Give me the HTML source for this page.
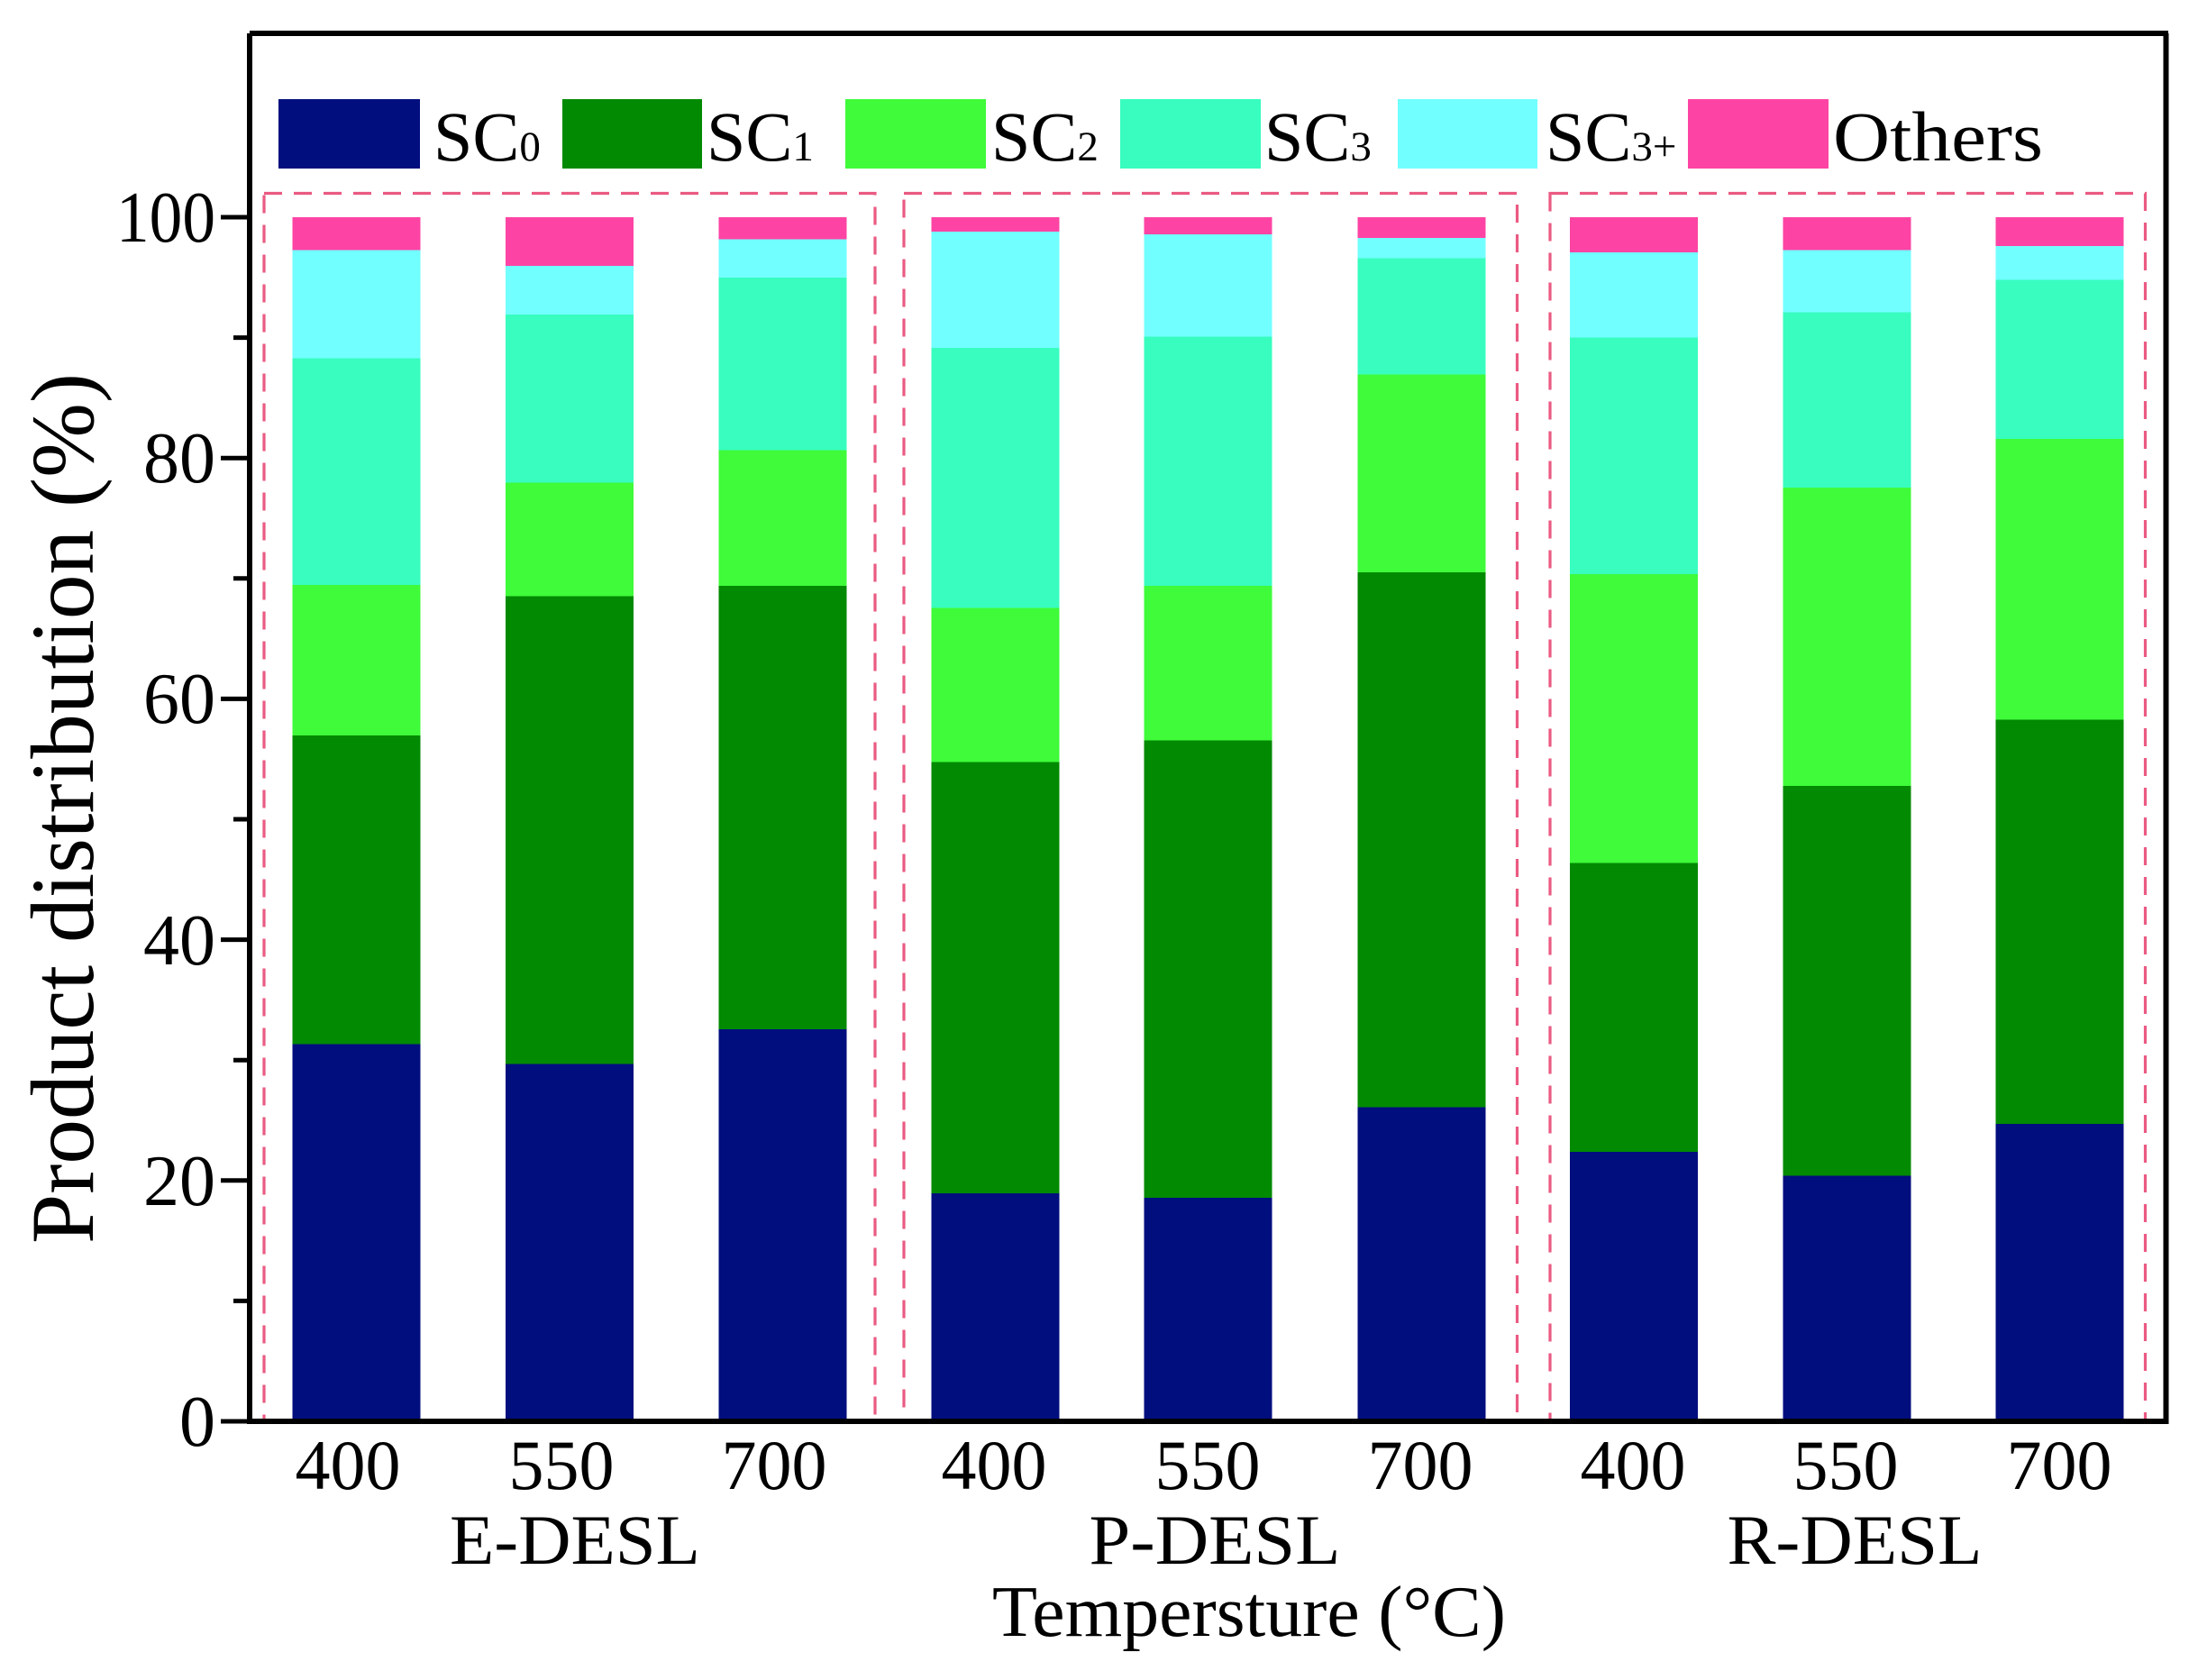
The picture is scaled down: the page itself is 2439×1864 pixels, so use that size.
<!DOCTYPE html>
<html>
<head>
<meta charset="utf-8">
<style>
html,body{margin:0;padding:0;background:#fff;}
svg{display:block;}
text{font-family:"Liberation Serif","Times New Roman",serif;fill:#000;}
</style>
</head>
<body>
<svg width="2439" height="1864" viewBox="0 0 2439 1864" xmlns="http://www.w3.org/2000/svg">
<rect x="0" y="0" width="2439" height="1864" fill="#fff"/>

<!-- Bars -->
<g shape-rendering="crispEdges">
<!-- bar 1 -->
<rect x="324.5" y="241" width="142" height="37" fill="#fd44a4"/>
<rect x="324.5" y="277.6" width="142" height="120" fill="#72ffff"/>
<rect x="324.5" y="397.4" width="142" height="252" fill="#38fdbf"/>
<rect x="324.5" y="649" width="142" height="167" fill="#3ffb3a"/>
<rect x="324.5" y="815.8" width="142" height="343" fill="#028a02"/>
<rect x="324.5" y="1158.7" width="142" height="420" fill="#010e7e"/>
<!-- bar 2 -->
<rect x="560.8" y="241" width="142" height="54" fill="#fd44a4"/>
<rect x="560.8" y="294.9" width="142" height="55" fill="#72ffff"/>
<rect x="560.8" y="349" width="142" height="187" fill="#38fdbf"/>
<rect x="560.8" y="535.7" width="142" height="126.5" fill="#3ffb3a"/>
<rect x="560.8" y="661.7" width="142" height="519.5" fill="#028a02"/>
<rect x="560.8" y="1180.7" width="142" height="398" fill="#010e7e"/>
<!-- bar 3 -->
<rect x="797.6" y="241" width="142" height="24.8" fill="#fd44a4"/>
<rect x="797.6" y="265.3" width="142" height="43.4" fill="#72ffff"/>
<rect x="797.6" y="308.2" width="142" height="191.8" fill="#38fdbf"/>
<rect x="797.6" y="499.5" width="142" height="151" fill="#3ffb3a"/>
<rect x="797.6" y="650" width="142" height="492.6" fill="#028a02"/>
<rect x="797.6" y="1142.1" width="142" height="436" fill="#010e7e"/>
<!-- bar 4 -->
<rect x="1033.5" y="241" width="142" height="16.5" fill="#fd44a4"/>
<rect x="1033.5" y="257" width="142" height="129.5" fill="#72ffff"/>
<rect x="1033.5" y="386" width="142" height="289" fill="#38fdbf"/>
<rect x="1033.5" y="674.5" width="142" height="171.4" fill="#3ffb3a"/>
<rect x="1033.5" y="845.4" width="142" height="479" fill="#028a02"/>
<rect x="1033.5" y="1324" width="142" height="254.5" fill="#010e7e"/>
<!-- bar 5 -->
<rect x="1269.6" y="241" width="142" height="19.7" fill="#fd44a4"/>
<rect x="1269.6" y="260.2" width="142" height="113.8" fill="#72ffff"/>
<rect x="1269.6" y="373.5" width="142" height="277" fill="#38fdbf"/>
<rect x="1269.6" y="650" width="142" height="171.9" fill="#3ffb3a"/>
<rect x="1269.6" y="821.4" width="142" height="508" fill="#028a02"/>
<rect x="1269.6" y="1329" width="142" height="249.5" fill="#010e7e"/>
<!-- bar 6 -->
<rect x="1506.4" y="241" width="142" height="23.3" fill="#fd44a4"/>
<rect x="1506.4" y="263.8" width="142" height="23.4" fill="#72ffff"/>
<rect x="1506.4" y="286.7" width="142" height="129.1" fill="#38fdbf"/>
<rect x="1506.4" y="415.3" width="142" height="220.4" fill="#3ffb3a"/>
<rect x="1506.4" y="635.2" width="142" height="594" fill="#028a02"/>
<rect x="1506.4" y="1228.7" width="142" height="349.8" fill="#010e7e"/>
<!-- bar 7 -->
<rect x="1742.2" y="241" width="142" height="39.5" fill="#fd44a4"/>
<rect x="1742.2" y="280" width="142" height="95" fill="#72ffff"/>
<rect x="1742.2" y="374.5" width="142" height="263" fill="#38fdbf"/>
<rect x="1742.2" y="637" width="142" height="321.1" fill="#3ffb3a"/>
<rect x="1742.2" y="957.6" width="142" height="321.1" fill="#028a02"/>
<rect x="1742.2" y="1278.2" width="142" height="300.3" fill="#010e7e"/>
<!-- bar 8 -->
<rect x="1978.3" y="241" width="142" height="37.1" fill="#fd44a4"/>
<rect x="1978.3" y="277.6" width="142" height="69.3" fill="#72ffff"/>
<rect x="1978.3" y="346.4" width="142" height="194.9" fill="#38fdbf"/>
<rect x="1978.3" y="540.8" width="142" height="331.6" fill="#3ffb3a"/>
<rect x="1978.3" y="871.9" width="142" height="433.3" fill="#028a02"/>
<rect x="1978.3" y="1304.7" width="142" height="273.8" fill="#010e7e"/>
<!-- bar 9 -->
<rect x="2214.5" y="241" width="142" height="32.5" fill="#fd44a4"/>
<rect x="2214.5" y="273" width="142" height="38.2" fill="#72ffff"/>
<rect x="2214.5" y="310.7" width="142" height="176.8" fill="#38fdbf"/>
<rect x="2214.5" y="487" width="142" height="312" fill="#3ffb3a"/>
<rect x="2214.5" y="798.5" width="142" height="448.8" fill="#028a02"/>
<rect x="2214.5" y="1246.8" width="142" height="331.7" fill="#010e7e"/>
</g>

<!-- Dashed group boxes -->
<g fill="none" stroke="#ea5a82" stroke-width="3.2" stroke-dasharray="20,13">
<rect x="293" y="214.5" width="678" height="1362.5"/>
<rect x="1003" y="214.5" width="680.5" height="1362.5"/>
<rect x="1720" y="214.5" width="660.5" height="1362.5"/>
</g>

<!-- Frame / axes -->
<g stroke="#000" fill="none">
<line x1="277" y1="37" x2="2406" y2="37" stroke-width="6"/>
<line x1="2403.5" y1="37" x2="2403.5" y2="1580" stroke-width="6"/>
<line x1="277" y1="37" x2="277" y2="1580" stroke-width="6"/>
<line x1="274" y1="1577" x2="2406" y2="1577" stroke-width="6"/>
<!-- major ticks -->
<line x1="245" y1="1577" x2="277" y2="1577" stroke-width="5"/>
<line x1="245" y1="1309.8" x2="277" y2="1309.8" stroke-width="5"/>
<line x1="245" y1="1042.6" x2="277" y2="1042.6" stroke-width="5"/>
<line x1="245" y1="775.4" x2="277" y2="775.4" stroke-width="5"/>
<line x1="245" y1="508.2" x2="277" y2="508.2" stroke-width="5"/>
<line x1="245" y1="241" x2="277" y2="241" stroke-width="5"/>
<!-- minor ticks -->
<line x1="259" y1="1443.4" x2="277" y2="1443.4" stroke-width="5"/>
<line x1="259" y1="1176.2" x2="277" y2="1176.2" stroke-width="5"/>
<line x1="259" y1="909" x2="277" y2="909" stroke-width="5"/>
<line x1="259" y1="641.8" x2="277" y2="641.8" stroke-width="5"/>
<line x1="259" y1="374.6" x2="277" y2="374.6" stroke-width="5"/>
</g>

<!-- Y tick labels -->
<g font-size="80" text-anchor="end">
<text x="239" y="1604">0</text>
<text x="239" y="1337">20</text>
<text x="239" y="1070">40</text>
<text x="239" y="802">60</text>
<text x="239" y="535">80</text>
<text x="239" y="268" textLength="110" lengthAdjust="spacingAndGlyphs">100</text>
</g>

<!-- Y axis title -->
<text transform="translate(103,897) rotate(-90)" font-size="100" text-anchor="middle" textLength="966" lengthAdjust="spacingAndGlyphs">Product distribution (%)</text>

<!-- X tick labels -->
<g font-size="78" text-anchor="middle">
<text x="386" y="1652">400</text>
<text x="623" y="1652">550</text>
<text x="859" y="1652">700</text>
<text x="1103" y="1652">400</text>
<text x="1340" y="1652">550</text>
<text x="1576" y="1652">700</text>
<text x="1812" y="1652">400</text>
<text x="2048" y="1652">550</text>
<text x="2285" y="1652">700</text>
</g>

<!-- Group labels -->
<g font-size="78" text-anchor="middle">
<text x="638" y="1735" textLength="278" lengthAdjust="spacingAndGlyphs">E-DESL</text>
<text x="1348" y="1735" textLength="279" lengthAdjust="spacingAndGlyphs">P-DESL</text>
<text x="2058" y="1735" textLength="283" lengthAdjust="spacingAndGlyphs">R-DESL</text>
</g>

<!-- X axis title -->
<text x="1386" y="1815" font-size="80" text-anchor="middle" textLength="570" lengthAdjust="spacingAndGlyphs">Tempersture (°C)</text>

<!-- Legend -->
<g shape-rendering="crispEdges">
<rect x="309" y="110" width="157" height="77" fill="#010e7e"/>
<rect x="624" y="110" width="155" height="77" fill="#028a02"/>
<rect x="938" y="110" width="156" height="77" fill="#3ffb3a"/>
<rect x="1243" y="110" width="156" height="77" fill="#38fdbf"/>
<rect x="1551" y="110" width="155" height="77" fill="#72ffff"/>
<rect x="1873" y="110" width="156" height="77" fill="#fd44a4"/>
</g>
<g font-size="78">
<text x="481" y="178">SC<tspan font-size="47">0</tspan></text>
<text x="784" y="178">SC<tspan font-size="47">1</tspan></text>
<text x="1100" y="178">SC<tspan font-size="47">2</tspan></text>
<text x="1403" y="178">SC<tspan font-size="47">3</tspan></text>
<text x="1715" y="178">SC<tspan font-size="47">3+</tspan></text>
<text x="2034" y="178" textLength="233" lengthAdjust="spacingAndGlyphs">Others</text>
</g>
</svg>
</body>
</html>
